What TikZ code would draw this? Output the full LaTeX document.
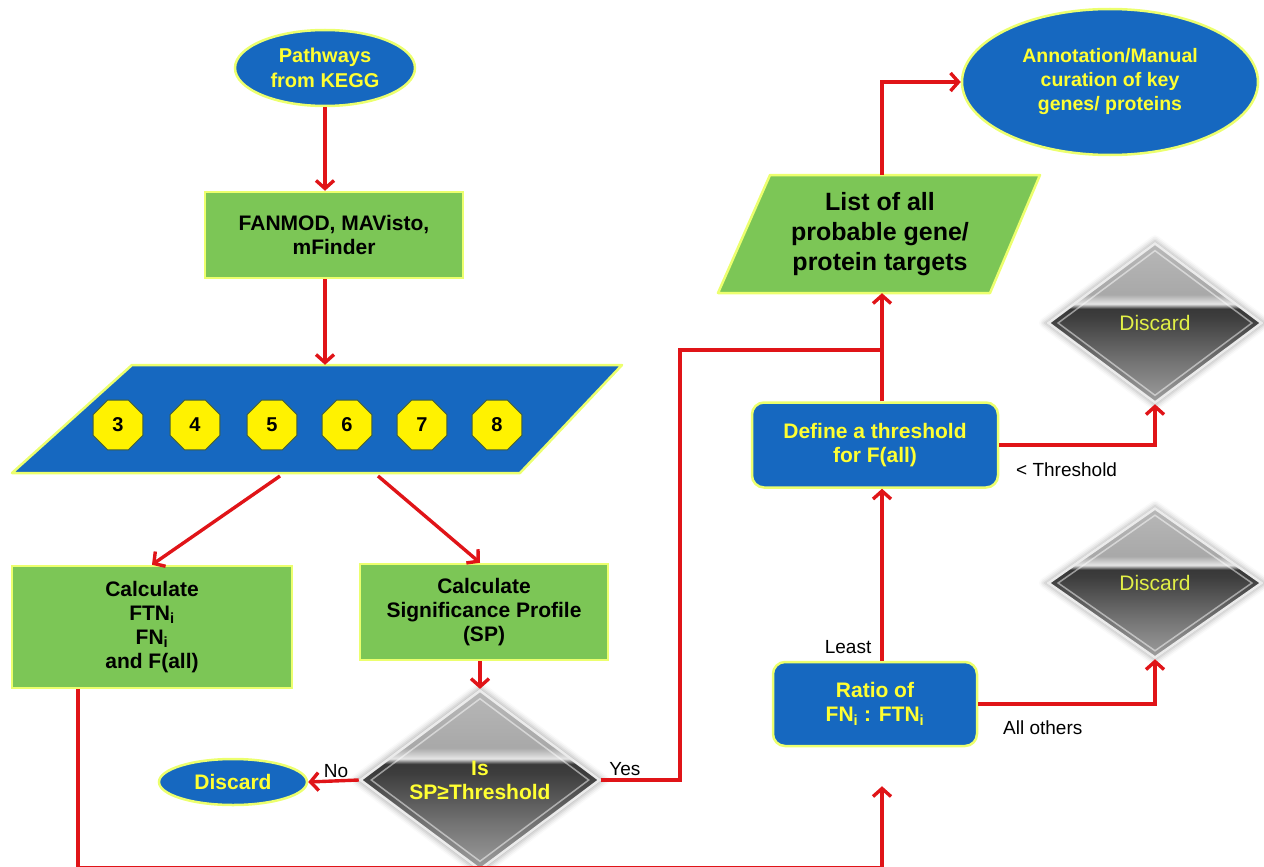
\documentclass[tikz,border=0pt]{standalone}
\usepackage{fontspec}
\setmainfont{Liberation Sans}
\usetikzlibrary{shapes.geometric,arrows.meta,calc,shadows.blur}

\definecolor{boxblue}{RGB}{22,104,192}
\definecolor{boxgreen}{RGB}{124,198,86}
\definecolor{rimyellow}{RGB}{236,255,110}
\definecolor{txtyellow}{RGB}{255,255,50}
\definecolor{discyellow}{RGB}{226,240,70}
\definecolor{flowred}{RGB}{224,20,24}
\definecolor{octrim}{RGB}{60,90,60}

% glassy grey fill of the decision diamonds (bottom = 25bp, top = 75bp)
\pgfdeclareverticalshading{glassy}{100bp}{%
  color(0bp)=(black!38); color(25bp)=(black!38); color(38bp)=(black!55);
  color(52bp)=(black!76); color(54.5bp)=(black!78); color(56bp)=(black!10);
  color(59bp)=(black!34); color(75bp)=(black!28); color(100bp)=(black!28)}

\newcommand{\fs}[2]{\fontsize{#1}{#2}\selectfont}

\tikzset{
  bluenode/.style={fill=boxblue, draw=rimyellow, line width=2.5pt,
    text=txtyellow, font=\bfseries\fs{21}{24}, align=center, inner sep=2pt},
  greennode/.style={fill=boxgreen, draw=rimyellow, line width=2.5pt,
    text=black, font=\bfseries\fs{21}{24}, align=center, inner sep=2pt},
  bluerounded/.style={bluenode, rectangle, rounded corners=12pt},
  glassdiamond/.style={diamond, shading=glassy, draw=black!8, line width=2.5pt,
    align=center, inner sep=0pt,
    path picture={
      \draw[white, opacity=0.5, line width=1.5pt]
        ($(path picture bounding box.north)!0.09!(path picture bounding box.center)$) --
        ($(path picture bounding box.east)!0.09!(path picture bounding box.center)$) --
        ($(path picture bounding box.south)!0.09!(path picture bounding box.center)$) --
        ($(path picture bounding box.west)!0.09!(path picture bounding box.center)$) -- cycle;
    },
    blur shadow={shadow xshift=0pt, shadow yshift=0pt, shadow scale=1.04,
      shadow blur radius=5pt, shadow opacity=30}},
  motif/.style={regular polygon, regular polygon sides=8, fill=yellow,
    draw=octrim, line width=1pt, minimum size=54pt, inner sep=0pt,
    font=\bfseries\fs{20}{22}},
  flowline/.style={draw=flowred, line width=3.4pt},
  flow/.style={flowline, -{Straight Barb[length=8pt,width=18pt]}},
  tag/.style={font=\fs{19}{21}, text=black, inner sep=1pt}
}

\begin{document}
\begin{tikzpicture}[x=1pt,y=-1pt]
\useasboundingbox (0,0) rectangle (1264,867);

% ---------- left column ----------
\node[bluenode, ellipse, minimum width=180pt, minimum height=76pt, font=\bfseries\fs{20}{25}]
  (kegg) at (325,68) {Pathways\\from KEGG};

\node[greennode, rectangle, minimum width=258pt, minimum height=86pt]
  (fan) at (334,235) {FANMOD, MAVisto,\\mFinder};

% parallelogram holding the motif sizes
\fill[boxblue, draw=rimyellow, line width=2.5pt, line join=round]
  (132,365) -- (622,365) -- (520,473) -- (12,473) -- cycle;
\node[minimum width=400pt, minimum height=108pt, inner sep=0pt] (motifs) at (317,419) {};
\foreach \k/\x in {3/118,4/195,5/272,6/347,7/422,8/497}
  \node[motif] (m\k) at (\x,425) {\k};

\node[greennode, rectangle, minimum width=280pt, minimum height=122pt]
  (calc) at (152,627) {Calculate\\FTN\textsubscript{i}\\FN\textsubscript{i}\\and F(all)};

\node[greennode, rectangle, minimum width=248pt, minimum height=96pt]
  (sig) at (484,612) {Calculate\\Significance Profile\\(SP)};

\node[glassdiamond, minimum width=240pt, minimum height=128pt,
  text=txtyellow, font=\bfseries\fs{21}{24}]
  (sp) at (480,780) {Is\\SP≥Threshold};

\node[bluenode, ellipse, minimum width=148pt, minimum height=46pt]
  (disc) at (233,782) {Discard};

% ---------- right column ----------
\node[bluenode, ellipse, minimum width=296pt, minimum height=146pt, font=\bfseries\fs{19.5}{24}]
  (annot) at (1110,82) {Annotation/Manual\\curation of key\\genes/ proteins};

\fill[boxgreen, draw=rimyellow, line width=2.5pt, line join=round]
  (770,175) -- (1040,175) -- (990,293) -- (718,293) -- cycle;
\node[align=center, font=\bfseries\fs{25}{30}, minimum width=220pt,
  minimum height=118pt, inner sep=0pt]
  (list) at (880,234) {List of all\\probable gene/\\protein targets};

\node[bluerounded, minimum width=246pt, minimum height=85pt]
  (thr) at (875,445) {Define a threshold\\for F(all)};

\node[bluerounded, minimum width=204pt, minimum height=84pt]
  (ratio) at (875,704) {Ratio of\\FN\textsubscript{i} : FTN\textsubscript{i}};

\node[glassdiamond, minimum width=214pt, minimum height=160pt,
  text=discyellow, font=\fs{21}{23}] (d1) at (1155,323) {Discard};
\node[glassdiamond, minimum width=214pt, minimum height=150pt,
  text=discyellow, font=\fs{21}{23}] (d2) at (1155,583) {Discard};

% ---------- routing points ----------
\coordinate (spine) at (882,350);
\coordinate (yesup) at (680,350);
\coordinate (mL) at (280,476);
\coordinate (mR) at (378,476);
\coordinate (lowL) at (78,867.5);
\coordinate (lowR) at (882,867.5);

% ---------- connectors ----------
\draw[flow] (kegg.south) -- (kegg.south |- fan.north);
\draw[flow] (fan.south -| kegg.south) -- (kegg.south |- motifs.north);
\draw[flow] (mL) -- (calc.north);
\draw[flow] (mR) -- (sig.north -| sp.north);
\draw[flow] (sig.south -| sp.north) -- (sp.north);
\draw[flow] (sp.west) -- node[tag, above=1pt, pos=0.45] {No} (disc.east);
\draw[flowline] (sp.east) -- node[tag, above=2pt, pos=0.3] {Yes} (sp.east -| yesup)
  -- (yesup) -- (spine);
\draw[flowline] (calc.south -| lowL) -- (lowL) -- (lowR);
\draw[flow, shorten >=39pt] (lowR) -- (ratio.south -| spine);
\draw[flow] (ratio.north -| spine) -- node[tag, left=8pt, pos=0.08] {Least} (thr.south -| spine);
\draw[flow] (ratio.east) -| (d2.south);
\node[tag, anchor=west] at (1002,728) {All others};
\draw[flow] (thr.east) -| (d1.south);
\node[tag, anchor=west] at (1015,470) {< Threshold};
\draw[flow] (thr.north -| spine) -- (spine) -- (list.south -| spine);
\draw[flow] (list.north -| spine) |- (annot.west);
\end{tikzpicture}
\end{document}
